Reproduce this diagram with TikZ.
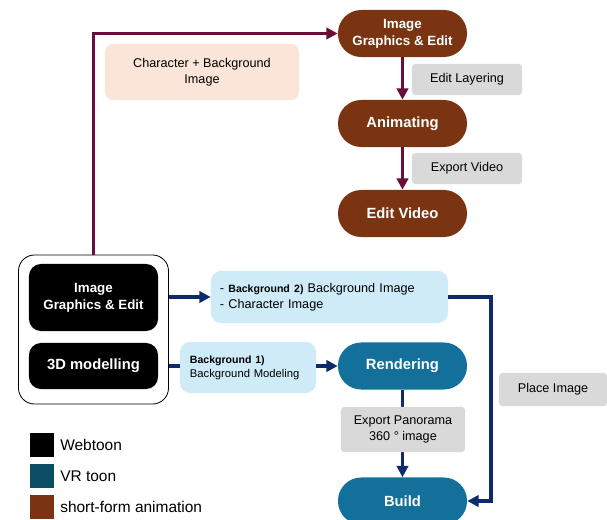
\documentclass[tikz,border=0pt]{standalone}
\usepackage{fontspec}
\setmainfont{Liberation Sans}
\usetikzlibrary{arrows.meta}

\definecolor{animbrown}{HTML}{7B3411}
\definecolor{vrteal}{HTML}{13709A}
\definecolor{vrdark}{HTML}{0C4F64}
\definecolor{animline}{HTML}{6A0D3A}
\definecolor{vrline}{HTML}{0D2B6B}
\definecolor{bluebox}{HTML}{CFEBF8}
\definecolor{peachbox}{HTML}{FBE5D8}
\definecolor{greybox}{HTML}{D9D9D9}

\begin{document}
\begin{tikzpicture}
                        [
                            x=0.025cm, y=-0.025cm,
                            pill/.style = {shape=rectangle, rounded corners=0.58cm, minimum width=3.225cm, minimum height=1.175cm, inner sep=0pt, text=white, align=center, font=\fontsize{10.5}{12.5}\selectfont\bfseries},
                            twoline/.style = {font=\fontsize{9.5}{12}\selectfont\bfseries},
                            webbox/.style = {shape=rectangle, rounded corners=0.3cm, minimum width=3.225cm, fill=black, inner sep=0pt, text=white, align=center, font=\fontsize{10.5}{12.5}\selectfont\bfseries},
                            notebox/.style = {shape=rectangle, rounded corners=0.08cm, fill=greybox, inner sep=0pt, align=center, font=\fontsize{9}{11.5}\selectfont},
                            infobox/.style = {shape=rectangle, rounded corners=0.25cm, fill=bluebox, inner ysep=0pt, align=left},
                            legendsq/.style = {shape=rectangle, minimum size=0.6cm, inner sep=0pt},
                            legendtxt/.style = {anchor=west, inner sep=0pt, font=\fontsize{11}{13}\selectfont},
                            animarrow/.style = {draw=animline, line width=2.3pt, -{Triangle[length=8pt,width=8pt]}},
                            vrarrow/.style = {draw=vrline, line width=2.3pt, -{Triangle[length=8pt,width=8pt]}},
                        ]

                        \useasboundingbox (0,0) rectangle (607,520);

                        \node[pill, fill=animbrown, twoline] (aimg) at (402.5,33.5)   {Image\\Graphics \& Edit};
                        \node[pill, fill=animbrown] (anim) at (402.5,123.5)   {Animating};
                        \node[pill, fill=animbrown] (avid) at (402.5,213.5)   {Edit Video};

                        \node[shape=rectangle, rounded corners=0.2cm, fill=peachbox, minimum width=4.85cm, minimum height=1.4cm, inner sep=0pt, align=center, font=\fontsize{9}{11.5}\selectfont] (chbg) at (202,72)   {Character + Background\\Image};

                        \node[shape=rectangle, rounded corners=0.4cm, draw=black, line width=0.6pt, minimum width=3.75cm, minimum height=3.725cm] (outer) at (93.5,329.5)   {};
                        \node[webbox, minimum height=1.675cm, twoline] (wimg) at (93.5,297.5)   {Image\\Graphics \& Edit};
                        \node[webbox, minimum height=1.15cm] (wmod) at (93.5,366)   {3D modelling};

                        \node[infobox, text width=5.475cm, inner xsep=0.225cm, minimum height=1.3cm, font=\fontsize{9}{11.4}\selectfont] (bgtwo) at (329.5,297)   {- {\fontsize{7.5}{9}\selectfont\bfseries Background 2)} Background Image\\- Character Image};
                        \node[infobox, text width=2.9cm, inner xsep=0.25cm, minimum height=1.275cm, font=\fontsize{8}{10}\selectfont] (bgone) at (248,367.5)   {{\fontsize{7.5}{9}\selectfont\bfseries Background 1)}\\Background Modeling};

                        \node[pill, fill=vrteal] (vrend) at (402.5,366)   {Rendering};
                        \node[pill, fill=vrteal] (vbuild) at (402.5,501)   {Build};

                        \coordinate (turn) at (491,297);

                        \draw[animarrow] (outer.north) |- (aimg.west);
                        \draw[animarrow] (aimg) -- (anim);
                        \draw[animarrow] (anim) -- (avid);

                        \draw[vrarrow] (outer.east |- bgtwo.west) -- (bgtwo.west);
                        \draw[draw=vrline, line width=2.3pt] (outer.east |- wmod) -- (bgone.west |- wmod);
                        \draw[vrarrow] (bgone.east |- vrend) -- (vrend.west);
                        \draw[vrarrow] (vrend) -- (vbuild);
                        \draw[vrarrow] (bgtwo.east) -- (turn) |- (vbuild.east);

                        \node[notebox, minimum width=2.75cm, minimum height=0.775cm] (lyr) at (467,79.5)   {Edit Layering};
                        \node[notebox, minimum width=2.75cm, minimum height=0.775cm] (expv) at (467,168.5)   {Export Video};
                        \node[notebox, minimum width=3.1cm, minimum height=1.125cm] (expp) at (403,429.5)   {Export Panorama\\360 ° image};
                        \node[notebox, minimum width=2.7cm, minimum height=0.825cm] (plc) at (553,389.5)   {Place Image};

                        \node[legendsq, fill=black] (lgweb) at (42,445)   {};
                        \node[legendsq, fill=vrdark] (lgvr) at (42,476)   {};
                        \node[legendsq, fill=animbrown] (lganim) at (42,507)   {};
                        \node[legendtxt] (lgwebt) at (60,445)   {Webtoon};
                        \node[legendtxt] (lgvrt) at (60,476)   {VR toon};
                        \node[legendtxt] (lganimt) at (60,507)   {short-form animation};
                    \end{tikzpicture}
\end{document}
